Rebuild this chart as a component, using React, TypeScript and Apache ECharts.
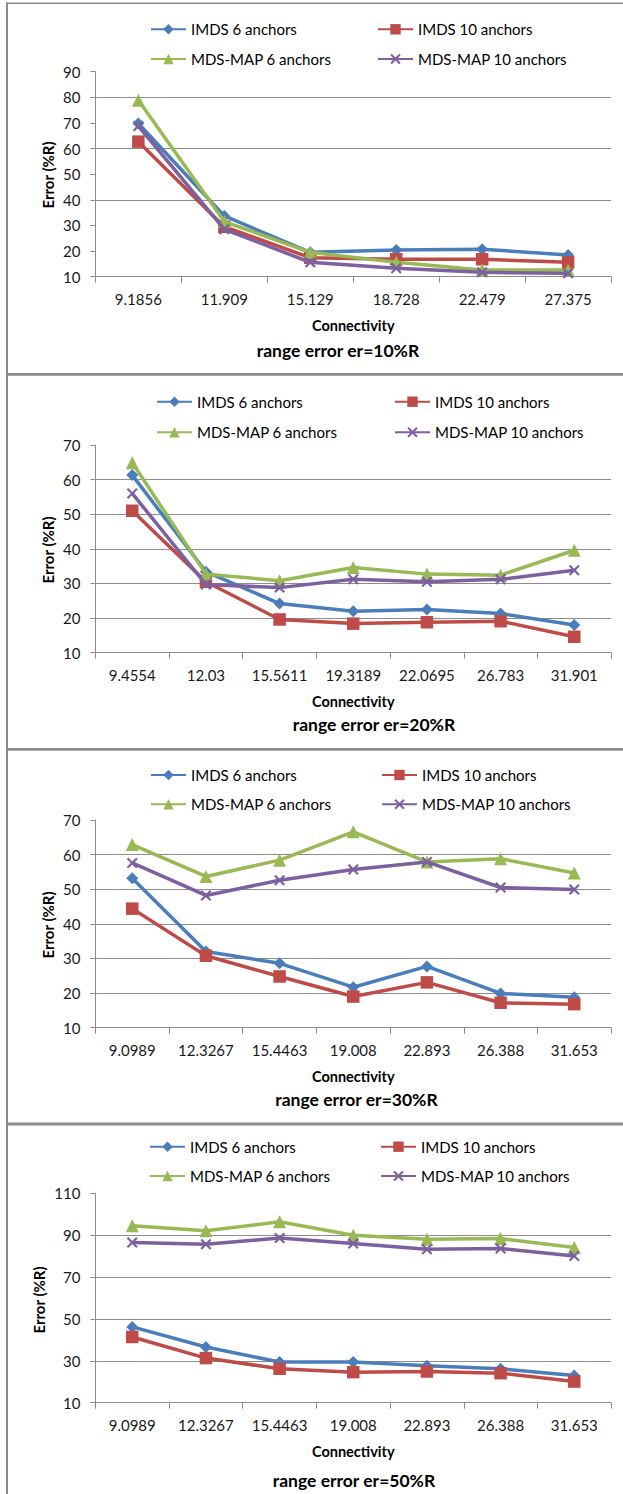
import React, { useEffect, useRef } from "react";
import * as echarts from "echarts";

// ---- data ----
const CAT_10 = ["9.1856", "11.909", "15.129", "18.728", "22.479", "27.375"];
const CAT_20 = ["9.4554", "12.03", "15.5611", "19.3189", "22.0695", "26.783", "31.901"];
const CAT_30 = ["9.0989", "12.3267", "15.4463", "19.008", "22.893", "26.388", "31.653"];
const CAT_50 = ["9.0989", "12.3267", "15.4463", "19.008", "22.893", "26.388", "31.653"];

const SERIES_NAMES = ["IMDS 6 anchors", "IMDS 10 anchors", "MDS-MAP 6 anchors", "MDS-MAP 10 anchors"];

const IMDS6_10 = [69.8, 33.7, 19.5, 20.4, 20.7, 18.5];
const IMDS10_10 = [62.7, 29.5, 17.4, 16.8, 16.8, 15.6];
const MDS6_10 = [78.9, 31.5, 19.5, 15.6, 12.6, 12.6];
const MDS10_10 = [68.8, 28.5, 15.6, 13.3, 11.7, 11.3];

const IMDS6_20 = [61.3, 33.4, 24.2, 22.0, 22.5, 21.3, 18.0];
const IMDS10_20 = [51.0, 30.5, 19.6, 18.4, 18.8, 19.1, 14.6];
const MDS6_20 = [64.9, 32.7, 30.8, 34.6, 32.7, 32.4, 39.6];
const MDS10_20 = [56.0, 29.7, 28.8, 31.2, 30.5, 31.2, 33.8];

const IMDS6_30 = [53.2, 32.0, 28.6, 21.7, 27.7, 19.9, 18.8];
const IMDS10_30 = [44.4, 30.8, 24.8, 19.0, 23.1, 17.2, 16.8];
const MDS6_30 = [62.9, 53.7, 58.4, 66.6, 57.9, 58.8, 54.7];
const MDS10_30 = [57.6, 48.2, 52.6, 55.7, 57.9, 50.5, 49.9];

const IMDS6_50 = [46.2, 36.6, 29.4, 29.4, 27.6, 26.2, 23.0];
const IMDS10_50 = [41.4, 31.3, 26.2, 24.6, 24.9, 24.1, 20.1];
const MDS6_50 = [94.5, 92.1, 96.4, 90.0, 88.1, 88.4, 84.1];
const MDS10_50 = [86.5, 85.7, 88.6, 86.0, 83.3, 83.6, 80.1];

const TITLES = ["range error er=10%R", "range error er=20%R", "range error er=30%R", "range error er=50%R"];
const X_NAME = "Connectivity";
const Y_NAME = "Error (%R)";

// y-axis ranges per panel
const Y_MIN = [10, 10, 10, 10];
const Y_MAX = [90, 70, 70, 110];
const Y_STEP = [10, 10, 10, 20];

// ---- styles ----
const COLORS = ["#4A7EBB", "#BE4B48", "#98B954", "#7D60A0"];
const X_PATH =
  "path://M0,1.4L1.4,0L5,3.6L8.6,0L10,1.4L6.4,5L10,8.6L8.6,10L5,6.4L1.4,10L0,8.6L3.6,5Z";
const SYMBOLS = ["diamond", "rect", "triangle", X_PATH];
const SYMBOL_SIZES = [12, 12.5, 13, 11];
const FONT = "Lato";
const GRID_LINE = "#8c8c8c";
const T = "rgba(0,0,0,0)";

const PANELS = [
  { cats: CAT_10, data: [IMDS6_10, IMDS10_10, MDS6_10, MDS10_10], top: 71.7, height: 205, grid: [T, T, T, GRID_LINE, T, GRID_LINE, T, GRID_LINE, T],
    legTop: 21.3, legGap: 13.7, col1: 150, col2: 377, title: [338, 350], xName: 325, yName: [47.7, 175] },
  { cats: CAT_20, data: [IMDS6_20, IMDS10_20, MDS6_20, MDS10_20], top: 445, height: 207.7, grid: [T, GRID_LINE, GRID_LINE, GRID_LINE, GRID_LINE, GRID_LINE, T],
    legTop: 393.7, legGap: 14.6, col1: 156, col2: 394, title: [374, 724.3], xName: 701.7, yName: [47.7, 550] },
  { cats: CAT_30, data: [IMDS6_30, IMDS10_30, MDS6_30, MDS10_30], top: 820, height: 207.7, grid: [T, GRID_LINE, GRID_LINE, GRID_LINE, GRID_LINE, GRID_LINE, T],
    legTop: 767, legGap: 13.3, col1: 150, col2: 381, title: [356.5, 1099], xName: 1076, yName: [47.7, 925] },
  { cats: CAT_50, data: [IMDS6_50, IMDS10_50, MDS6_50, MDS10_50], top: 1193.3, height: 209.4, grid: [T, GRID_LINE, GRID_LINE, GRID_LINE, GRID_LINE, T],
    legTop: 1138.7, legGap: 13.3, col1: 149, col2: 380, title: [354, 1480.7], xName: 1451.7, yName: [38.6, 1300] },
];

const GRID_LEFT = 95.4;
const GRID_WIDTH = 515.7;

function buildOption() {
  const grid: any[] = [];
  const xAxis: any[] = [];
  const yAxis: any[] = [];
  const series: any[] = [];
  const legend: any[] = [];
  const graphic: any[] = [];

  // frame lines
  graphic.push({ type: "rect", shape: { x: 6, y: 2.5, width: 617, height: 1.5 }, style: { fill: "#8c8c8c" } });
  graphic.push({ type: "rect", shape: { x: 6, y: 2.5, width: 2, height: 1492 }, style: { fill: "#8c8c8c" } });
  graphic.push({ type: "rect", shape: { x: 6, y: 373, width: 617, height: 2.7 }, style: { fill: "#8c8c8c" } });
  graphic.push({ type: "rect", shape: { x: 6, y: 748, width: 617, height: 2.7 }, style: { fill: "#8c8c8c" } });
  graphic.push({ type: "rect", shape: { x: 6, y: 1122.4, width: 617, height: 3.2 }, style: { fill: "#8c8c8c" } });

  PANELS.forEach((p, i) => {
    grid.push({ left: GRID_LEFT, top: p.top, width: GRID_WIDTH, height: p.height, containLabel: false });
    xAxis.push({
      type: "category",
      gridIndex: i,
      data: p.cats,
      boundaryGap: true,
      axisLine: { lineStyle: { color: "#8c8c8c", width: 1 } },
      axisTick: { show: true, length: 6, lineStyle: { color: "#8c8c8c" } },
      axisLabel: { fontFamily: FONT, fontSize: 15, color: "#1a1a1a", margin: 15, interval: 0 },
      splitLine: { show: false },
    });
    yAxis.push({
      type: "value",
      gridIndex: i,
      min: Y_MIN[i],
      max: Y_MAX[i],
      interval: Y_STEP[i],
      axisLine: { show: true, lineStyle: { color: "#8c8c8c", width: 1 } },
      axisTick: { show: true, length: 5, lineStyle: { color: "#8c8c8c" } },
      axisLabel: { fontFamily: FONT, fontSize: 15, color: "#1a1a1a", margin: 15 },
      splitLine: { show: true, lineStyle: { color: p.grid, width: 1 } },
    });
    p.data.forEach((d, s) => {
      series.push({
        type: "line",
        name: SERIES_NAMES[s],
        xAxisIndex: i,
        yAxisIndex: i,
        data: d,
        symbol: SYMBOLS[s],
        symbolSize: SYMBOL_SIZES[s],
        showAllSymbol: true,
        lineStyle: { color: COLORS[s], width: 3.5 },
        itemStyle: { color: COLORS[s] },
        emphasis: { disabled: true },
        z: 2 + s,
      });
    });
    const legBase = {
      orient: "vertical",
      top: p.legTop,
      itemGap: p.legGap,
      itemWidth: 35,
      itemHeight: 13,
      padding: 0,
      selectedMode: false,
      textStyle: { fontFamily: FONT, fontSize: 15, color: "#000", lineHeight: 16 },
    };
    legend.push({ ...legBase, left: p.col1, data: [SERIES_NAMES[0], SERIES_NAMES[2]] });
    legend.push({ ...legBase, left: p.col2, data: [SERIES_NAMES[1], SERIES_NAMES[3]] });

    graphic.push({
      type: "text",
      x: p.title[0],
      y: p.title[1],
      style: { text: TITLES[i], font: `bold 17.5px ${FONT}`, fill: "#000", align: "center", verticalAlign: "middle" },
    });
    graphic.push({
      type: "text",
      x: GRID_LEFT + GRID_WIDTH / 2,
      y: p.xName,
      style: { text: X_NAME, font: `bold 14.5px ${FONT}`, fill: "#000", align: "center", verticalAlign: "middle" },
    });
    graphic.push({
      type: "text",
      x: p.yName[0],
      y: p.yName[1],
      rotation: Math.PI / 2,
      style: { text: Y_NAME, font: `bold 15px ${FONT}`, fill: "#000", align: "center", verticalAlign: "middle" },
    });
  });

  return { animation: false, backgroundColor: "#fff", grid, xAxis, yAxis, series, legend, graphic };
}

export default function App() {
  const ref = useRef<HTMLDivElement>(null);
  useEffect(() => {
    if (!ref.current) return;
    const chart = echarts.init(ref.current, undefined, { renderer: "svg" });
    chart.setOption(buildOption() as any);
    return () => chart.dispose();
  }, []);
  return (
    <div
      ref={ref}
      style={{ position: "absolute", left: 0, top: 0, width: 623, height: 1494, background: "#fff" }}
    />
  );
}
